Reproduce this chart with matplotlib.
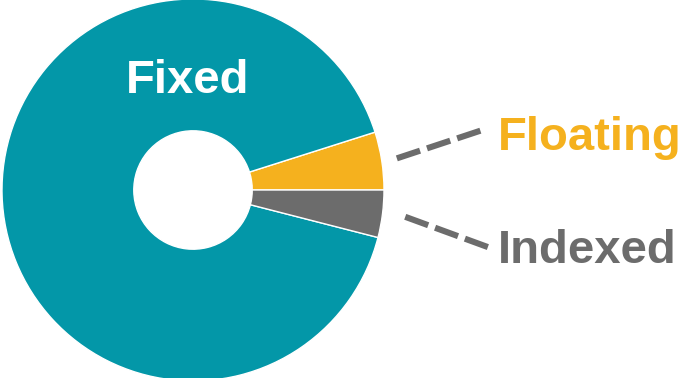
import numpy as np
from matplotlib import pyplot as plt

# slice data (counter-clockwise from 3 o'clock)
labels = ["Floating", "Fixed", "Indexed"]
shares = [4.9, 91.1, 4.0]
colors = ["#F5B11E", "#0397A8", "#6C6C6C"]
text_colors = ["#F5B11E", "#FFFFFF", "#6C6C6C"]

plt.rcParams["font.family"] = ["Liberation Sans", "DejaVu Sans"]

fig = plt.figure(figsize=(6.81, 3.78), dpi=100)
ax = fig.add_axes([0, 0, 1, 1])

cx, cy, radius = 193, 188, 191
wedges, _ = ax.pie(
    shares,
    colors=colors,
    startangle=0,
    counterclock=True,
    center=(cx, cy),
    radius=radius,
    wedgeprops=dict(width=radius * 0.69, edgecolor="white", linewidth=1.0),
)

ax.set_xlim(0, 681)
ax.set_ylim(0, 378)
ax.set_aspect("equal")
ax.axis("off")

# leader line settings: (start radius, end radius, angle offset, baseline drop)
leader = {
    "Floating": (1.08, 1.55, 2.9, 20),
    "Indexed": (1.12, 1.58, -3.8, 15),
}

for wedge, label, tcolor in zip(wedges, labels, text_colors):
    mid = np.deg2rad((wedge.theta1 + wedge.theta2) / 2)
    if label == "Fixed":
        ax.text(188, 378 - 93, label, color=tcolor, fontsize=34,
                fontweight="bold", ha="center", va="baseline")
        continue
    r0, r1, off, drop = leader[label]
    a_end = mid + np.deg2rad(off)
    x0, y0 = cx + r0 * radius * np.cos(mid), cy + r0 * radius * np.sin(mid)
    x1, y1 = cx + r1 * radius * np.cos(a_end), cy + r1 * radius * np.sin(a_end)
    ax.plot([x0, x1], [y0, y1], color="#6C6C6C", linewidth=4.4,
            dashes=(4, 1.2), solid_capstyle="butt", dash_capstyle="butt")
    ax.text(498, y1 - drop, label, color=tcolor, fontsize=34,
            fontweight="bold", ha="left", va="baseline")

fig.savefig("out.png", dpi=100)
